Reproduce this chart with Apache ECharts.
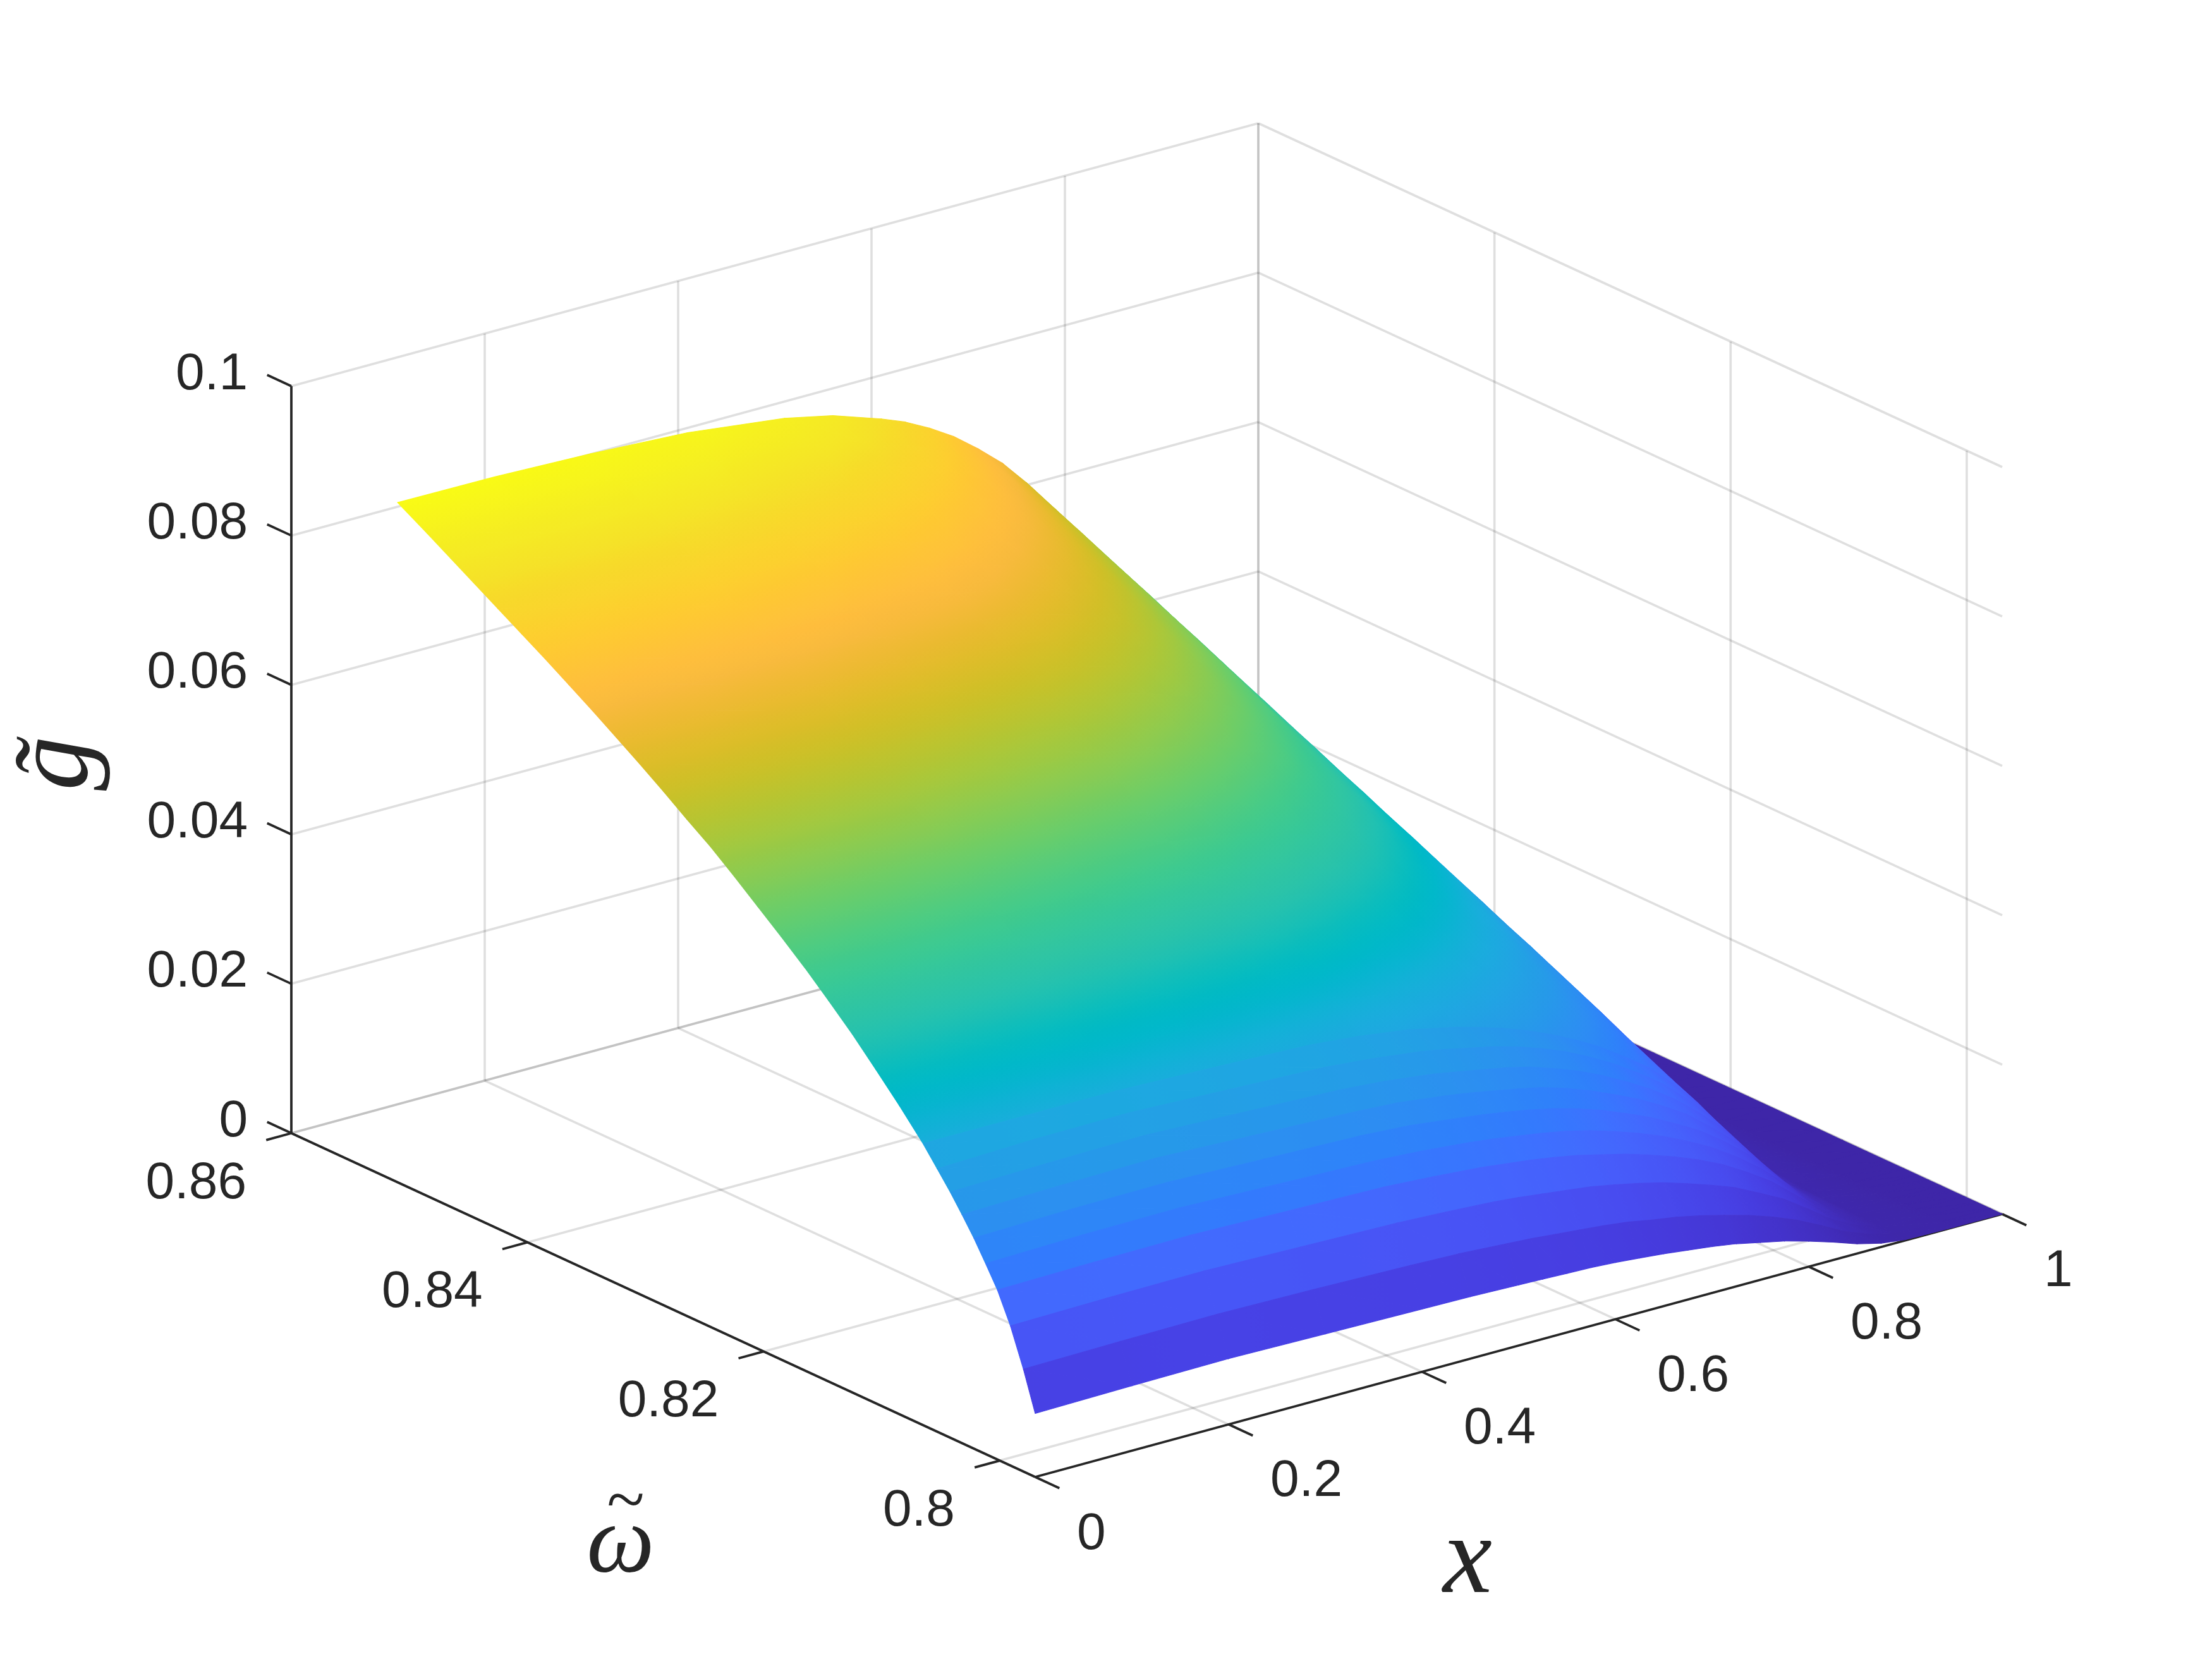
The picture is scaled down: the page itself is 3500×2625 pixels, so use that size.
<!DOCTYPE html>
<html>
<head>
<meta charset="utf-8">
<style>html,body{margin:0;padding:0;background:#fff}#c{width:3500px;height:2625px}</style>
<script src="https://cdn.jsdelivr.net/npm/echarts@6/dist/echarts.min.js"></script>
</head>
<body>
<div id="c"></div>
<script>
// ---- data ----
var xTicks = [0, 0.2, 0.4, 0.6, 0.8, 1];
var omegaTicks = [0.8, 0.82, 0.84, 0.86];
var gTicks = [0, 0.02, 0.04, 0.06, 0.08, 0.1];
var xTickLabels = ['0', '0.2', '0.4', '0.6', '0.8', '1'];
var omegaTickLabels = ['0.8', '0.82', '0.84', '0.86'];
var gTickLabels = ['0', '0.02', '0.04', '0.06', '0.08', '0.1'];

var xGrid = [0, 0.1, 0.2, 0.3, 0.4, 0.45, 0.5, 0.525, 0.55, 0.575, 0.6, 0.625, 0.65, 0.675, 0.7, 0.725, 0.75, 0.775, 0.8, 0.825, 0.85, 0.875, 0.9, 0.95, 1];
var omegaGrid = [0.7970, 0.7980, 0.7991, 0.8002, 0.8012, 0.8022, 0.8032, 0.8042, 0.8053, 0.8065,
  0.8085, 0.8105, 0.8125, 0.8145, 0.8165, 0.8185, 0.8205, 0.8225, 0.8245, 0.8265, 0.8285,
  0.8305, 0.8325, 0.8345, 0.8365, 0.8385, 0.8405, 0.8425, 0.8445, 0.8465, 0.8485, 0.8510];
var gValues = [
  [.0085,.0087,.0088,.0086,.0084,.0083,.0081,.0080,.0079,.0078,.0076,.0073,.0070,.0066,.0062,.0057,.0050,.0043,.0034,.0024,.0013,.0005,.0001,0,0],
  [.0137,.0139,.0140,.0138,.0135,.0133,.0129,.0127,.0124,.0121,.0118,.0114,.0108,.0103,.0096,.0088,.0079,.0068,.0055,.0039,.0022,.0010,.0002,0,0],
  [.0187,.0189,.0190,.0187,.0184,.0181,.0177,.0174,.0170,.0166,.0162,.0156,.0149,.0141,.0131,.0120,.0108,.0092,.0075,.0053,.0030,.0014,.0003,0,0],
  [.0227,.0229,.0230,.0227,.0224,.0220,.0215,.0211,.0207,.0202,.0196,.0188,.0180,.0170,.0159,.0146,.0131,.0112,.0091,.0064,.0036,.0016,.0003,0,0],
  [.0255,.0258,.0259,.0255,.0251,.0247,.0241,.0237,.0232,.0227,.0221,.0213,.0203,.0192,.0179,.0164,.0147,.0126,.0102,.0073,.0041,.0019,.0004,0,0],
  [.0282,.0285,.0286,.0282,.0278,.0274,.0266,.0262,.0257,.0251,.0244,.0235,.0224,.0211,.0197,.0180,.0162,.0139,.0113,.0080,.0045,.0021,.0004,0,0],
  [.0306,.0309,.0311,.0306,.0301,.0297,.0289,.0284,.0278,.0272,.0265,.0255,.0243,.0229,.0214,.0196,.0176,.0150,.0122,.0087,.0049,.0023,.0005,0,0],
  [.0329,.0332,.0334,.0329,.0324,.0319,.0311,.0305,.0299,.0293,.0285,.0274,.0262,.0247,.0230,.0211,.0189,.0162,.0132,.0094,.0053,.0024,.0005,0,0],
  [.0352,.0356,.0357,.0352,.0347,.0341,.0333,.0327,.0320,.0313,.0304,.0293,.0280,.0264,.0246,.0225,.0202,.0173,.0141,.0100,.0056,.0026,.0005,0,0],
  [.0377,.0377,.0377,.0373,.0368,.0362,.0353,.0346,.0339,.0330,.0320,.0308,.0294,.0278,.0260,.0238,.0215,.0185,.0151,.0109,.0064,.0031,.0008,0,0],
  [.0413,.0413,.0413,.0409,.0403,.0396,.0386,.0379,.0372,.0362,.0351,.0337,.0322,.0304,.0285,.0261,.0235,.0202,.0165,.0119,.0070,.0033,.0008,0,0],
  [.0447,.0447,.0447,.0443,.0436,.0429,.0418,.0410,.0402,.0392,.0380,.0365,.0349,.0329,.0308,.0282,.0255,.0219,.0179,.0129,.0076,.0036,.0009,0,0],
  [.0480,.0480,.0480,.0475,.0468,.0461,.0449,.0440,.0432,.0421,.0408,.0392,.0374,.0353,.0331,.0303,.0274,.0235,.0192,.0139,.0082,.0039,.0010,0,0],
  [.0510,.0510,.0510,.0505,.0497,.0490,.0477,.0468,.0459,.0447,.0434,.0417,.0398,.0376,.0352,.0321,.0289,.0249,.0204,.0148,.0087,.0041,.0010,0,0],
  [.0539,.0539,.0539,.0534,.0526,.0517,.0504,.0494,.0485,.0472,.0458,.0440,.0420,.0397,.0372,.0338,.0304,.0262,.0216,.0156,.0092,.0044,.0011,0,0],
  [.0566,.0566,.0566,.0560,.0552,.0543,.0529,.0519,.0509,.0496,.0481,.0462,.0441,.0417,.0391,.0355,.0318,.0275,.0226,.0164,.0096,.0045,.0011,0,0],
  [.0592,.0592,.0592,.0586,.0577,.0568,.0554,.0544,.0533,.0519,.0503,.0483,.0462,.0436,.0409,.0371,.0333,.0288,.0237,.0172,.0101,.0048,.0012,0,0],
  [.0618,.0618,.0618,.0612,.0603,.0593,.0578,.0567,.0556,.0541,.0525,.0504,.0482,.0454,.0425,.0386,.0347,.0300,.0247,.0179,.0105,.0050,.0012,0,0],
  [.0643,.0643,.0643,.0637,.0627,.0617,.0601,.0590,.0579,.0564,.0547,.0525,.0502,.0471,.0439,.0397,.0355,.0309,.0257,.0186,.0109,.0052,.0013,0,0],
  [.0665,.0665,.0665,.0658,.0648,.0638,.0622,.0611,.0599,.0583,.0565,.0543,.0519,.0487,.0454,.0412,.0370,.0321,.0266,.0192,.0113,.0054,.0013,0,0],
  [.0688,.0688,.0688,.0681,.0671,.0660,.0643,.0631,.0619,.0603,.0585,.0562,.0537,.0503,.0468,.0424,.0380,.0330,.0275,.0198,.0117,.0056,.0014,0,0],
  [.0710,.0710,.0710,.0703,.0692,.0682,.0665,.0653,.0640,.0623,.0604,.0580,.0555,.0519,.0483,.0438,.0392,.0340,.0284,.0205,.0121,.0058,.0014,0,0],
  [.0731,.0731,.0731,.0724,.0713,.0702,.0684,.0672,.0659,.0642,.0622,.0597,.0571,.0534,.0497,.0451,.0405,.0351,.0293,.0211,.0124,.0059,.0015,0,0],
  [.0752,.0752,.0752,.0744,.0733,.0722,.0704,.0691,.0678,.0660,.0640,.0615,.0588,.0550,.0512,.0466,.0420,.0363,.0302,.0217,.0128,.0061,.0015,0,0],
  [.0772,.0772,.0772,.0764,.0753,.0741,.0722,.0709,.0695,.0677,.0656,.0630,.0603,.0565,.0526,.0478,.0430,.0372,.0309,.0222,.0131,.0062,.0015,0,0],
  [.0792,.0792,.0792,.0784,.0772,.0760,.0740,.0727,.0713,.0694,.0673,.0646,.0618,.0580,.0541,.0493,.0445,.0385,.0317,.0228,.0135,.0064,.0016,0,0],
  [.0811,.0811,.0811,.0803,.0791,.0779,.0758,.0744,.0730,.0711,.0689,.0661,.0632,.0594,.0555,.0505,.0455,.0394,.0325,.0234,.0138,.0065,.0016,0,0],
  [.0830,.0830,.0830,.0822,.0809,.0797,.0776,.0762,.0747,.0728,.0705,.0677,.0647,.0609,.0570,.0520,.0470,.0405,.0332,.0239,.0141,.0067,.0017,0,0],
  [.0849,.0849,.0849,.0841,.0828,.0815,.0794,.0779,.0764,.0744,.0721,.0692,.0661,.0623,.0584,.0532,.0480,.0415,.0340,.0245,.0145,.0068,.0017,0,0],
  [.0868,.0868,.0868,.0859,.0846,.0833,.0812,.0797,.0781,.0760,.0737,.0708,.0676,.0637,.0597,.0547,.0495,.0425,.0348,.0250,.0148,.0070,.0017,0,0],
  [.0887,.0887,.0887,.0878,.0865,.0852,.0829,.0814,.0798,.0777,.0754,.0723,.0690,.0651,.0610,.0558,.0505,.0433,.0355,.0255,.0151,.0071,.0018,0,0],
  [.0910,.0909,.0905,.0898,.0882,.0868,.0846,.0833,.0816,.0796,.0771,.0743,.0708,.0668,.0625,.0570,.0510,.0440,.0364,.0260,.0155,.0072,.0018,0,0]
];
var parula = [
 [.2422,.1504,.6603],[.2504,.1650,.7076],[.2578,.1818,.7511],[.2647,.1978,.7952],[.2706,.2147,.8364],[.2751,.2342,.8710],
 [.2783,.2559,.8991],[.2803,.2782,.9221],[.2813,.3006,.9414],[.2810,.3228,.9579],[.2795,.3447,.9717],[.2760,.3667,.9829],
 [.2699,.3892,.9906],[.2602,.4123,.9952],[.2440,.4358,.9988],[.2206,.4603,.9973],[.1963,.4847,.9892],[.1834,.5074,.9798],
 [.1786,.5289,.9682],[.1764,.5499,.9520],[.1687,.5703,.9359],[.1540,.5902,.9218],[.1460,.6091,.9079],[.1380,.6276,.8973],
 [.1248,.6459,.8883],[.1113,.6635,.8763],[.0952,.6798,.8598],[.0689,.6948,.8394],[.0297,.7082,.8163],[.0036,.7203,.7917],
 [.0067,.7312,.7660],[.0433,.7411,.7394],[.0964,.7500,.7120],[.1408,.7584,.6842],[.1717,.7670,.6554],[.1938,.7758,.6251],
 [.2161,.7843,.5923],[.2470,.7918,.5567],[.2906,.7973,.5188],[.3406,.8008,.4789],[.3909,.8029,.4354],[.4456,.8024,.3909],
 [.5044,.7993,.3480],[.5616,.7942,.3045],[.6174,.7876,.2612],[.6720,.7793,.2227],[.7242,.7698,.1910],[.7738,.7598,.1646],
 [.8203,.7498,.1535],[.8634,.7406,.1596],[.9035,.7330,.1774],[.9393,.7285,.2058],[.9728,.7299,.2394],[.9956,.7434,.2371],
 [.9970,.7659,.2199],[.9952,.7861,.1967],[.9892,.8137,.1816],[.9786,.8352,.1734],[.9676,.8564,.1623],[.9610,.8890,.1537],
 [.9597,.9135,.1423],[.9628,.9373,.1265],[.9691,.9606,.1064],[.9769,.9839,.0805]
];

// ---- view ----
var xLim = [0, 1], omegaLim = [0.797, 0.86], gLim = [0, 0.1];
var flatRowCount = 9;   // lowest rows show as visible facets in the reference
var cMax = 0.091;
var INK = '#262626', GRID = 'rgba(38,38,38,0.15)';

function project(x, w, g) {
  var t = (w - omegaLim[0]) / (omegaLim[1] - omegaLim[0]);
  var z = g / gLim[1];
  return [1638 + 1530 * x - 1177 * t, 2337 - 416 * x - 544 * t - 1182 * z];
}
function colorOf(v) {
  var f = Math.max(0, Math.min(1, v / cMax)) * (parula.length - 1);
  var i = Math.min(parula.length - 2, Math.floor(f)), k = f - i;
  var a = parula[i], b = parula[i + 1];
  return 'rgb(' + [0, 1, 2].map(function (n) { return Math.round(255 * (a[n] + (b[n] - a[n]) * k)); }).join(',') + ')';
}
function triFill(p, v) {
  var lo = Math.min(v[0], v[1], v[2]), hi = Math.max(v[0], v[1], v[2]);
  if (hi - lo < 2e-5) return colorOf(lo);
  var ax = p[1][0] - p[0][0], ay = p[1][1] - p[0][1], bx = p[2][0] - p[0][0], by = p[2][1] - p[0][1];
  var det = ax * by - ay * bx;
  if (Math.abs(det) < 1e-6) return colorOf((lo + hi) / 2);
  var dv1 = v[1] - v[0], dv2 = v[2] - v[0];
  var gx = (dv1 * by - dv2 * ay) / det, gy = (dv2 * ax - dv1 * bx) / det;
  var n2 = gx * gx + gy * gy;
  if (n2 < 1e-16) return colorOf(lo);
  var x0 = p[0][0] + gx * (lo - v[0]) / n2, y0 = p[0][1] + gy * (lo - v[0]) / n2;
  var x1 = p[0][0] + gx * (hi - v[0]) / n2, y1 = p[0][1] + gy * (hi - v[0]) / n2;
  var stops = [];
  for (var s = 0; s <= 4; s++) stops.push({ offset: s / 4, color: colorOf(lo + (hi - lo) * s / 4) });
  return new echarts.graphic.LinearGradient(x0, y0, x1, y1, stops, true);
}

// triangles, back to front
var triangles = [];
for (var r = omegaGrid.length - 2; r >= 0; r--) {
  for (var c = xGrid.length - 2; c >= 0; c--) {
    triangles.push([r, c, 0]);
    triangles.push([r, c, 1]);
  }
}
function renderTri(params, api) {
  var d = triangles[params.dataIndex], r = d[0], c = d[1];
  var corners = d[2] === 0 ? [[r + 1, c + 1], [r + 1, c], [r, c + 1]] : [[r + 1, c], [r, c], [r, c + 1]];
  var pts = corners.map(function (k) {
    var q = project(xGrid[k[1]], omegaGrid[k[0]], gValues[k[0]][k[1]]);
    return api.coord(q);
  });
  var vals = corners.map(function (k) {
    var row = r < flatRowCount ? r : k[0];
    return gValues[row][k[1]];
  });
  var fill = triFill(pts, vals);
  return { type: 'polygon', shape: { points: pts }, silent: true,
    style: { fill: fill, stroke: fill, lineWidth: 1.2, lineJoin: 'round' } };
}

// grid + axes segments
var gridSegs = [];
gTicks.forEach(function (g) {
  gridSegs.push([[xLim[0], omegaLim[1], g], [xLim[1], omegaLim[1], g]]);
  gridSegs.push([[xLim[1], omegaLim[1], g], [xLim[1], omegaLim[0], g]]);
});
xTicks.forEach(function (x) {
  gridSegs.push([[x, omegaLim[1], gLim[0]], [x, omegaLim[1], gLim[1]]]);
  gridSegs.push([[x, omegaLim[1], gLim[0]], [x, omegaLim[0], gLim[0]]]);
});
omegaTicks.forEach(function (w) {
  gridSegs.push([[xLim[1], w, gLim[0]], [xLim[1], w, gLim[1]]]);
  gridSegs.push([[xLim[0], w, gLim[0]], [xLim[1], w, gLim[0]]]);
});
var axisSegs = [
  [[xLim[0], omegaLim[1], gLim[0]], [xLim[0], omegaLim[1], gLim[1]]],
  [[xLim[0], omegaLim[0], gLim[0]], [xLim[1], omegaLim[0], gLim[0]]],
  [[xLim[0], omegaLim[1], gLim[0]], [xLim[0], omegaLim[0], gLim[0]]]
];
var tickW = 0.00205, tickX = 0.026;
gTicks.forEach(function (g) { axisSegs.push([[0, omegaLim[1], g], [0, omegaLim[1] + tickW, g]]); });
xTicks.forEach(function (x) { axisSegs.push([[x, omegaLim[0], 0], [x, omegaLim[0] - tickW, 0]]); });
omegaTicks.forEach(function (w) { axisSegs.push([[0, w, 0], [-tickX, w, 0]]); });

function segRenderer(list, color, width) {
  return function (params, api) {
    var s = list[params.dataIndex];
    var a = api.coord(project(s[0][0], s[0][1], s[0][2])), b = api.coord(project(s[1][0], s[1][1], s[1][2]));
    return { type: 'line', silent: true, shape: { x1: a[0], y1: a[1], x2: b[0], y2: b[1] },
      style: { stroke: color, lineWidth: width, lineCap: 'butt' } };
  };
}

// labels: anchored on projected ticks
var labels = [];
gTicks.forEach(function (g, i) {
  labels.push({ p: [0, omegaLim[1], g], dx: -69, dy: -18, text: gTickLabels[i], align: 'right' });
});
omegaTicks.forEach(function (w, i) {
  labels.push({ p: [0, w, 0], dx: -71, dy: 80, text: omegaTickLabels[i], align: 'right' });
});
xTicks.forEach(function (x, i) {
  labels.push({ p: [x, omegaLim[0], 0], dx: 66, dy: 91, text: xTickLabels[i], align: 'left' });
});
function renderLabel(params, api) {
  var l = labels[params.dataIndex];
  var q = project(l.p[0], l.p[1], l.p[2]);
  var a = api.coord([q[0] + l.dx, q[1] + l.dy]);
  return { type: 'text', silent: true, x: a[0], y: a[1],
    style: { text: l.text, x: 0, y: 0, fill: INK, fontSize: 82, fontFamily: '"Liberation Sans", Arial, sans-serif',
      align: l.align, verticalAlign: 'middle' } };
}
var titles = [
  { text: 'g\u0303', pos: [92, 1208], rot: Math.PI / 2, size: 172, italic: true },
  { text: '\u03C9', pos: [982, 2447], rot: 0, size: 152, italic: true },
  { text: '~', pos: [990, 2380], rot: 0, size: 110, italic: false },
  { text: 'x', pos: [2322, 2473], rot: 0, size: 175, italic: true }
];
function renderTitle(params, api) {
  var t = titles[params.dataIndex];
  var a = api.coord(t.pos);
  return { type: 'text', silent: true, x: a[0], y: a[1], rotation: t.rot,
    style: { text: t.text, x: 0, y: 0, fill: INK, fontSize: t.size, fontStyle: t.italic ? 'italic' : 'normal',
      fontFamily: '"Liberation Serif", "DejaVu Serif", serif', align: 'center', verticalAlign: 'middle' } };
}
function indexData(list) { return list.map(function (_, i) { return [i]; }); }

var chart = echarts.init(document.getElementById('c'), null, { renderer: 'canvas', width: 3500, height: 2625 });
var common = { type: 'custom', coordinateSystem: 'cartesian2d', animation: false, clip: false, progressive: 0,
  silent: true, encode: { x: 0 } };
chart.setOption({
  backgroundColor: '#ffffff',
  animation: false,
  grid: { left: 0, right: 0, top: 0, bottom: 0 },
  xAxis: { type: 'value', min: 0, max: 3500, show: false },
  yAxis: { type: 'value', min: 0, max: 2625, inverse: true, show: false },
  series: [
    Object.assign({}, common, { name: 'grid', z: 1, data: indexData(gridSegs), renderItem: segRenderer(gridSegs, GRID, 3.6) }),
    Object.assign({}, common, { name: 'axes', z: 2, data: indexData(axisSegs), renderItem: segRenderer(axisSegs, INK, 3.8) }),
    Object.assign({}, common, { name: 'g(x, omega)', z: 3, data: indexData(triangles), renderItem: renderTri }),
    Object.assign({}, common, { name: 'tick labels', z: 4, data: indexData(labels), renderItem: renderLabel }),
    Object.assign({}, common, { name: 'axis titles', z: 4, data: indexData(titles), renderItem: renderTitle })
  ]
});
</script>
</body>
</html>
